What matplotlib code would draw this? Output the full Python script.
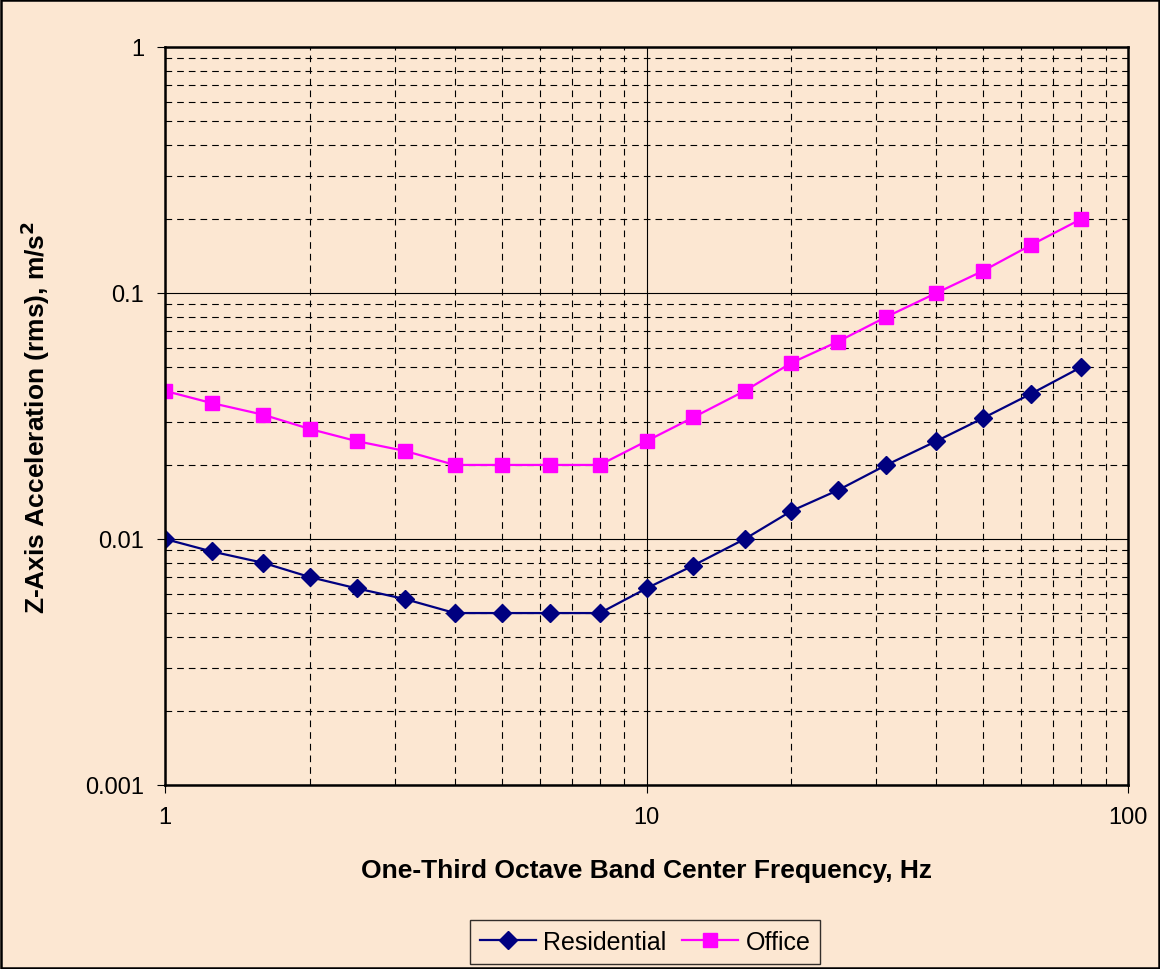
import matplotlib
matplotlib.use("Agg")
import matplotlib.pyplot as plt
from matplotlib.ticker import LogLocator, FixedLocator, FixedFormatter, NullFormatter
from matplotlib.patches import Rectangle

plt.rcParams['font.family'] = ['Liberation Sans', 'DejaVu Sans']

freq = [1, 1.25, 1.6, 2, 2.5, 3.15, 4, 5, 6.3, 8, 10, 12.5, 16, 20, 25, 31.5, 40, 50, 63, 80]
residential = [0.01, 0.0089, 0.008, 0.007, 0.0063, 0.0057, 0.005, 0.005, 0.005, 0.005,
               0.0063, 0.0078, 0.01, 0.013, 0.0158, 0.02, 0.025, 0.031, 0.039, 0.05]
office = [0.04, 0.0357, 0.032, 0.028, 0.025, 0.0228, 0.02, 0.02, 0.02, 0.02,
          0.025, 0.0312, 0.04, 0.052, 0.0635, 0.08, 0.1, 0.123, 0.157, 0.2]
x_ticks = [1, 10, 100]
x_labels = ["1", "10", "100"]
y_ticks = [0.001, 0.01, 0.1, 1]
y_labels = ["0.001", "0.01", "0.1", "1"]

bg = '#FCE7D2'
fig = plt.figure(figsize=(11.6, 9.7), dpi=100, facecolor=bg)
ax = fig.add_axes([165/1160, 1-786/970, (1128-165)/1160, (786-48)/970])
ax.set_facecolor(bg)
ax.set_xscale('log')
ax.set_yscale('log')
ax.set_xlim(1, 100)
ax.set_ylim(0.001, 1)

ax.xaxis.set_major_locator(FixedLocator(x_ticks))
ax.xaxis.set_major_formatter(FixedFormatter(x_labels))
ax.yaxis.set_major_locator(FixedLocator(y_ticks))
ax.yaxis.set_major_formatter(FixedFormatter(y_labels))
ax.xaxis.set_minor_locator(LogLocator(base=10, subs=range(2, 10)))
ax.yaxis.set_minor_locator(LogLocator(base=10, subs=range(2, 10)))
ax.xaxis.set_minor_formatter(NullFormatter())
ax.yaxis.set_minor_formatter(NullFormatter())

ax.grid(True, which='major', color='black', linewidth=0.8, linestyle='-')
ax.grid(True, which='minor', color='black', linewidth=0.8, linestyle=(0, (6, 4.5)))
ax.set_axisbelow(True)

ax.tick_params(which='major', direction='out', length=6, width=0.8, labelsize=17, pad=9, colors='black')
ax.tick_params(which='minor', length=0)
for s in ax.spines.values():
    s.set_linewidth(1.8)
    s.set_color('black')

ax.plot(freq, residential, color='#000080', linewidth=1.6, marker='D', markersize=9,
        markerfacecolor='#000080', markeredgecolor='#000080', label='Residential')
ax.plot(freq, office, color='#FF00FF', linewidth=1.6, marker='s', markersize=10,
        markerfacecolor='#FF00FF', markeredgecolor='#FF00FF', label='Office')

ax.set_xlabel('One-Third Octave Band Center Frequency, Hz', fontsize=19, fontweight='bold', labelpad=22)
ax.set_ylabel('Z-Axis Acceleration (rms), m/s$^\\mathbf{2}$', fontsize=19, fontweight='bold', labelpad=24)

leg = fig.legend(loc='center', bbox_to_anchor=(645/1160, 1-943/970), ncol=2, fontsize=18,
                 frameon=True, fancybox=False, edgecolor='black', facecolor=bg,
                 handlelength=2.25, handletextpad=0.3, columnspacing=0.6, borderpad=0.4)
leg.get_frame().set_linewidth(1.0)

fig.patches.append(Rectangle((0.001, 0.001), 0.998, 0.998, transform=fig.transFigure,
                             fill=False, edgecolor='black', linewidth=1.8))

fig.savefig('out.png', dpi=100, facecolor=bg)
